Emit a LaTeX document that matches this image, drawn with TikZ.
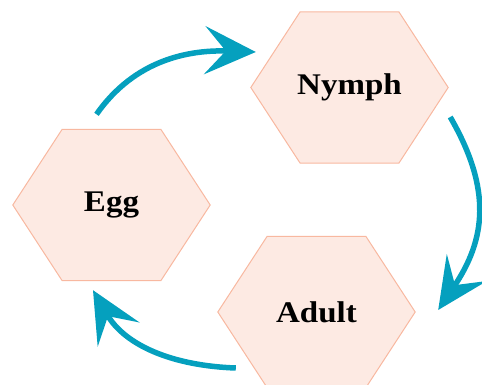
\documentclass[tikz,border=0pt]{standalone}
\usepackage{fontspec}
\setmainfont{Liberation Serif}
\newfontfamily\stagefont[FakeStretch=1.1]{Liberation Serif}
\usetikzlibrary{arrows.meta,calc,backgrounds}
\definecolor{hexfill}{HTML}{FDEAE3}
\definecolor{hexedge}{HTML}{F8B8A0}
\definecolor{cycleteal}{HTML}{05A0BE}
\tikzset{
  hexbox/.style={minimum width=197pt, minimum height=151pt, inner sep=0pt,
    font=\stagefont\fontsize{30}{36}\selectfont\bfseries},
  hexline/.style={fill=hexfill, draw=hexedge, line width=1pt},
  cyclearrow/.style={draw=cycleteal, line width=5.5pt,
    -{Stealth[length=51pt, width=48pt, inset=21pt]}}
}
\begin{document}
\begin{tikzpicture}[x=1pt,y=1pt]
    \useasboundingbox (0,0) rectangle (482,385);
    \node[hexbox] (egg) at (111.5,180) {Egg};
    \node[hexbox] (nymph) at (349.5,297.5) {Nymph};
    \node[hexbox] (adult) at (316.5,73) {Adult};
    \begin{scope}[on background layer]
    \foreach \n in {egg,nymph,adult}
        \draw[hexline] (\n.west) -- ($(\n.north west)!.25!(\n.north east)$)
            -- ($(\n.north west)!.75!(\n.north east)$) -- (\n.east)
            -- ($(\n.south west)!.75!(\n.south east)$)
            -- ($(\n.south west)!.25!(\n.south east)$) -- cycle;
    \end{scope}
    \draw[cyclearrow] ([shift={(-15,15)}]egg.north) to[out=55,in=178] ([shift={(5,35.5)}]nymph.west);
    \draw[cyclearrow] ([shift={(2,-29.5)}]nymph.east) to[out=-60,in=56,looseness=1.12] ([shift={(23,2)}]adult.east);
    \draw[cyclearrow] ([shift={(18,-56)}]adult.west) to[out=178,in=-60] ([shift={(-18.5,-9.5)}]egg.south);
\end{tikzpicture}
\end{document}
